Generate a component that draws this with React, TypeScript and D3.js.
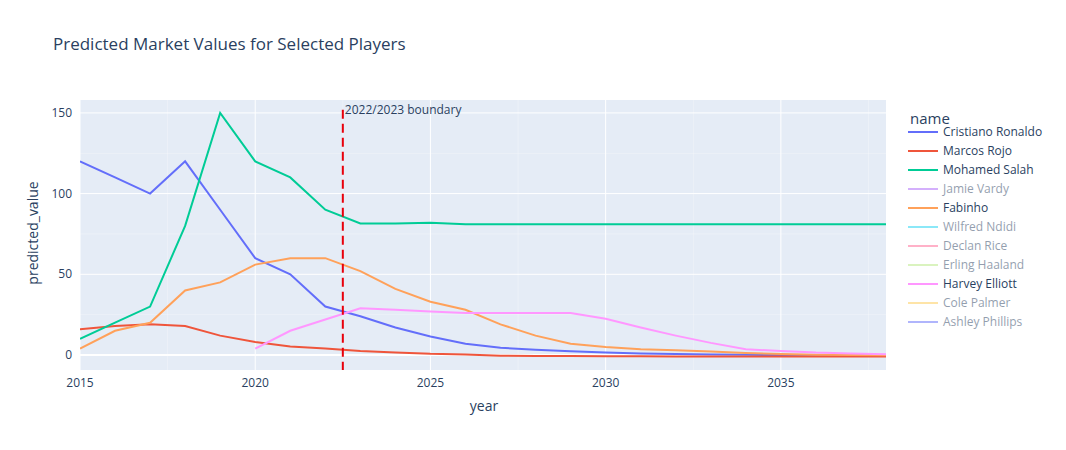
import React from 'react';
import * as d3 from 'd3';

const years = d3.range(2015, 2039);
const ronaldo = [120, 110, 100, 120, 90, 60, 50, 30, 24, 17, 11.5, 7, 4.5, 3.2, 2.3, 1.6, 1, 0.6, 0.3, 0.1, 0, 0, 0, 0];
const rojo = [16, 18, 19, 18, 12, 8, 5.2, 4, 2.5, 1.6, 0.7, 0.3, -0.4, -0.6, -0.7, -0.8, -0.8, -0.9, -0.9, -1, -1, -1, -1, -1];
const salah = [10, 20, 30, 80, 150, 120, 110, 90, 81.5, 81.5, 82, 81, 81, 81, 81, 81, 81, 81, 81, 81, 81, 81, 81, 81];
const fabinho = [4, 15, 20, 40, 45, 56, 60, 60, 52, 41, 33, 28, 19, 12, 7, 5, 3.6, 3, 2.2, 1.3, 0.6, 0.2, 0, -0.2];
const elliott = [null, null, null, null, null, 4, 15, 22, 29, 28, 27, 26, 26, 26, 26, 22.5, 17, 12, 7.5, 3.5, 2.5, 1.5, 1, 0.5];
const yTicks = [0, 50, 100, 150];
const xTicks = [2015, 2020, 2025, 2030, 2035];
const boundaryYear = 2022.5;

const series = [
  { name: 'Cristiano Ronaldo', color: '#636efa', values: ronaldo, visible: true },
  { name: 'Marcos Rojo', color: '#EF553B', values: rojo, visible: true },
  { name: 'Mohamed Salah', color: '#00cc96', values: salah, visible: true },
  { name: 'Jamie Vardy', color: '#ab63fa', values: null, visible: false },
  { name: 'Fabinho', color: '#FFA15A', values: fabinho, visible: true },
  { name: 'Wilfred Ndidi', color: '#19d3f3', values: null, visible: false },
  { name: 'Declan Rice', color: '#FF6692', values: null, visible: false },
  { name: 'Erling Haaland', color: '#B6E880', values: null, visible: false },
  { name: 'Harvey Elliott', color: '#FF97FF', values: elliott, visible: true },
  { name: 'Cole Palmer', color: '#FECB52', values: null, visible: false },
  { name: 'Ashley Phillips', color: '#636efa', values: null, visible: false },
];

const W = 1066, H = 450;
const L = 80, R = 886, T = 100, B = 370;

export default function App() {
  const x = d3.scaleLinear().domain([2015, 2038]).range([L, R]);
  const y = d3.scaleLinear().domain([-9.3, 158]).range([B, T]);
  const line = d3.line<number | null>()
    .defined(d => d !== null)
    .x((_, i) => x(years[i]))
    .y(d => y(d as number));
  const font = '"Open Sans", sans-serif';
  const minorX = d3.range(2015, 2039, 2.5);
  const minorY = [25, 75, 125];
  return (
    <svg width={W} height={H} style={{ position: 'absolute', left: 0, top: 0, fontFamily: font }}>
      <rect width={W} height={H} fill="#fff" />
      <text x={53} y={50} fontSize={17} fill="#2a3f5f">Predicted Market Values for Selected Players</text>
      <rect x={L} y={T} width={R - L} height={B - T} fill="#E5ECF6" />
      <clipPath id="c"><rect x={L} y={T} width={R - L} height={B - T} /></clipPath>
      {minorX.filter(v => !xTicks.includes(v)).map(v => (
        <line key={'mx' + v} x1={x(v)} x2={x(v)} y1={T} y2={B} stroke="#fff" strokeWidth={0.5} opacity={0.6} />
      ))}
      {minorY.map(v => (
        <line key={'my' + v} x1={L} x2={R} y1={y(v)} y2={y(v)} stroke="#fff" strokeWidth={0.5} opacity={0.6} />
      ))}
      {xTicks.map(v => (
        <g key={'x' + v}>
          <line x1={x(v)} x2={x(v)} y1={T} y2={B} stroke="#fff" strokeWidth={1} />
          <text x={x(v)} y={B + 17} fontSize={12} textAnchor="middle" fill="#2a3f5f">{v}</text>
        </g>
      ))}
      {yTicks.map(v => (
        <g key={'y' + v}>
          <line x1={L} x2={R} y1={y(v)} y2={y(v)} stroke="#fff" strokeWidth={v === 0 ? 2 : 1} />
          <text x={L - 8} y={y(v) + 4} fontSize={12} textAnchor="end" fill="#2a3f5f">{v}</text>
        </g>
      ))}
      <g clipPath="url(#c)">
        {series.filter(s => s.visible && s.values).map(s => (
          <path key={s.name} d={line(s.values as (number | null)[]) || ''} fill="none" stroke={s.color} strokeWidth={2} />
        ))}
      </g>
      <line x1={x(boundaryYear)} x2={x(boundaryYear)} y1={y(152)} y2={B} stroke="#e8000b" strokeWidth={2} strokeDasharray="9,5" />
      <text x={x(boundaryYear) + 2} y={114} fontSize={12} fill="#2a3f5f">2022/2023 boundary</text>
      <text x={484} y={411} fontSize={14} textAnchor="middle" fill="#2a3f5f">year</text>
      <text transform={`translate(38,${(T + B) / 2 - 2}) rotate(-90)`} fontSize={14} textAnchor="middle" fill="#2a3f5f">predicted_value</text>
      <text x={910} y={124} fontSize={15} fill="#2a3f5f">name</text>
      {series.map((s, i) => {
        const yy = 132 + i * 19;
        return (
          <g key={'l' + s.name} opacity={s.visible ? 1 : 0.5}>
            <line x1={908} x2={938} y1={yy} y2={yy} stroke={s.color} strokeWidth={2} />
            <text x={943} y={yy + 4} fontSize={12} fill="#2a3f5f">{s.name}</text>
          </g>
        );
      })}
    </svg>
  );
}
